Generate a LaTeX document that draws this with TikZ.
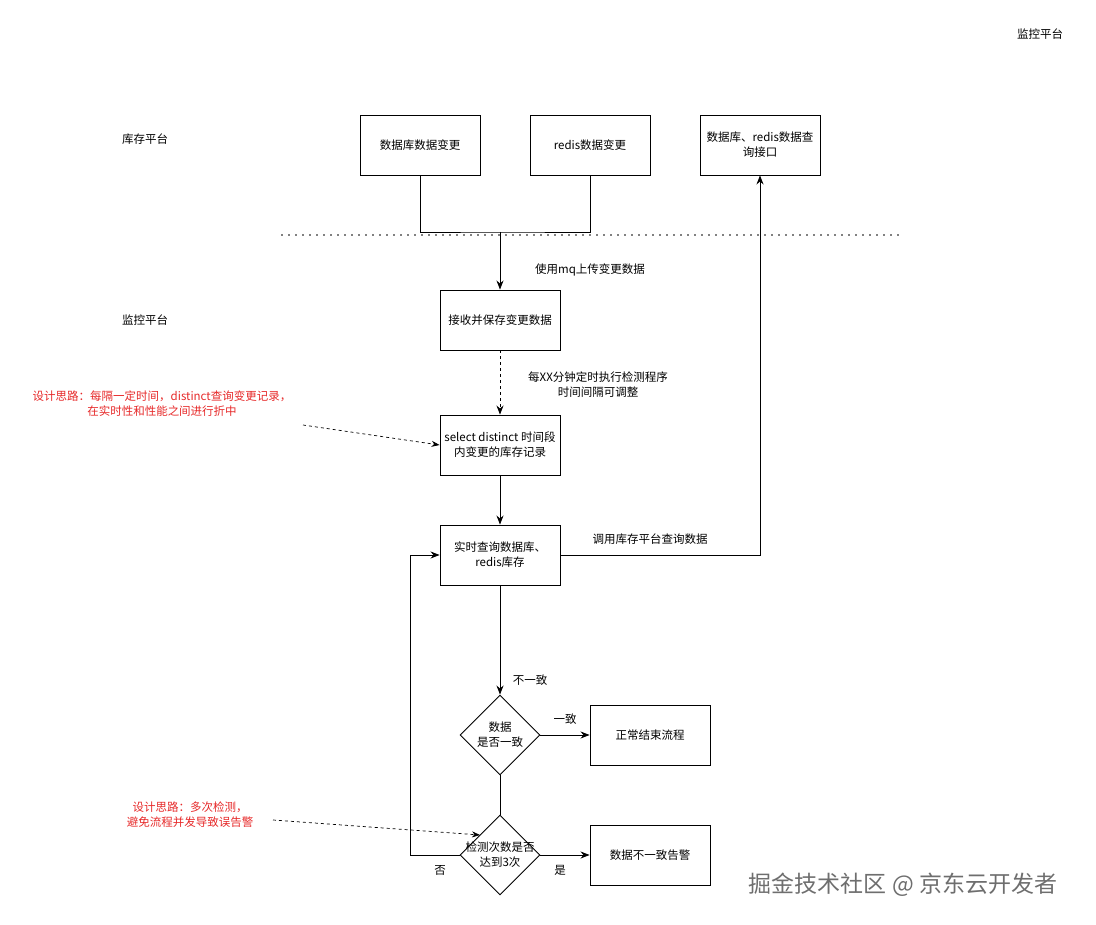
\documentclass[tikz,border=0pt]{standalone}
\usepackage{fontspec}
\setmainfont{Noto Sans CJK SC}
\usetikzlibrary{shapes.geometric,arrows.meta}
\begin{document}
\begin{tikzpicture}[x=1pt,y=-1pt,
  box/.style={draw,line width=0.9pt,minimum width=120pt,minimum height=60pt,align=center,font=\fontsize{11.5}{15}\selectfont,inner sep=2pt},
  dia/.style={draw,line width=0.9pt,diamond,minimum width=80pt,minimum height=80pt,aspect=1,inner sep=0pt},
  lbl/.style={font=\fontsize{11.5}{15}\selectfont,align=center},
  red/.style={lbl,text={rgb,255:red,230;green,40;blue,40}},
  arr/.style={line width=0.9pt,-{Stealth[length=9pt,width=7pt]}},
  ln/.style={line width=0.9pt}]
\useasboundingbox (0,0) rectangle (1096,925);
\node[box] (db) at (420,145) {数据库数据变更};
\node[box] (rd) at (590,145) {redis数据变更};
\node[box] (q) at (760,145) {数据库、redis数据查\\询接口};
\node[box] (recv) at (500,320) {接收并保存变更数据};
\node[box] (sel) at (500,445) {select distinct 时间段\\内变更的库存记录};
\node[box] (rt) at (500,555) {实时查询数据库、\\redis库存};
\node[dia] (d1) at (500,735) {};
\node[lbl] (d1t) at (500,735) {数据\\是否一致};
\node[box] (ok) at (650,735) {正常结束流程};
\node[dia] (d2) at (500,855) {};
\node[lbl] (d2t) at (500,855) {检测次数是否\\达到3次};
\node[box] (al) at (650,855) {数据不一致告警};
\coordinate (j) at (500,232);
\coordinate (na) at (303,425);
\coordinate (nb) at (273,820);
\coordinate (tip2) at (480,835);
\draw[line width=1.6pt,line cap=round,dash pattern=on 0pt off 7pt] (282,235) -- (900,235);
\draw[ln] (db.south) |- (j) -| (rd.south);
\draw[arr] (j) -- (recv.north);
\draw[arr,dashed] (recv.south) -- (sel.north);
\draw[arr] (sel.south) -- (rt.north);
\draw[arr] (rt.south) -- (d1.north);
\draw[arr] (d1.east) -- (ok.west);
\draw[ln] (d1.south) -- (d2.north);
\draw[arr] (d2.east) -- (al.west);
\draw[arr] (d2.west) -- (410,855) |- (rt.west);
\draw[arr] (rt.east) -| (q.south);
\draw[-{Stealth[length=8pt,width=6pt]},dashed,line width=0.7pt] (na) -- (sel.west);
\draw[-{Stealth[length=8pt,width=6pt]},dashed,line width=0.7pt] (nb) -- (tip2);
\node[lbl] at (1040,34) {监控平台};
\node[lbl] at (145,139) {库存平台};
\node[lbl] at (145,320) {监控平台};
\node[lbl] at (590,270) {使用mq上传变更数据};
\node[lbl] at (598,385) {每XX分钟定时执行检测程序\\时间间隔可调整};
\node[lbl] at (650,539) {调用库存平台查询数据};
\node[lbl] at (530,680) {不一致};
\node[lbl] at (565,719) {一致};
\node[lbl] at (440,870) {否};
\node[lbl] at (560,870) {是};
\node[red] at (162,404) {设计思路：每隔一定时间，distinct查询变更记录，\\在实时性和性能之间进行折中};
\node[red] at (190,815) {设计思路：多次检测，\\避免流程并发导致误告警};
\node[font=\fontsize{23}{26}\selectfont,text={rgb,255:red,110;green,110;blue,110}] (wm) at (903,885) {掘金技术社区 @ 京东云开发者};
\end{tikzpicture}
\end{document}
